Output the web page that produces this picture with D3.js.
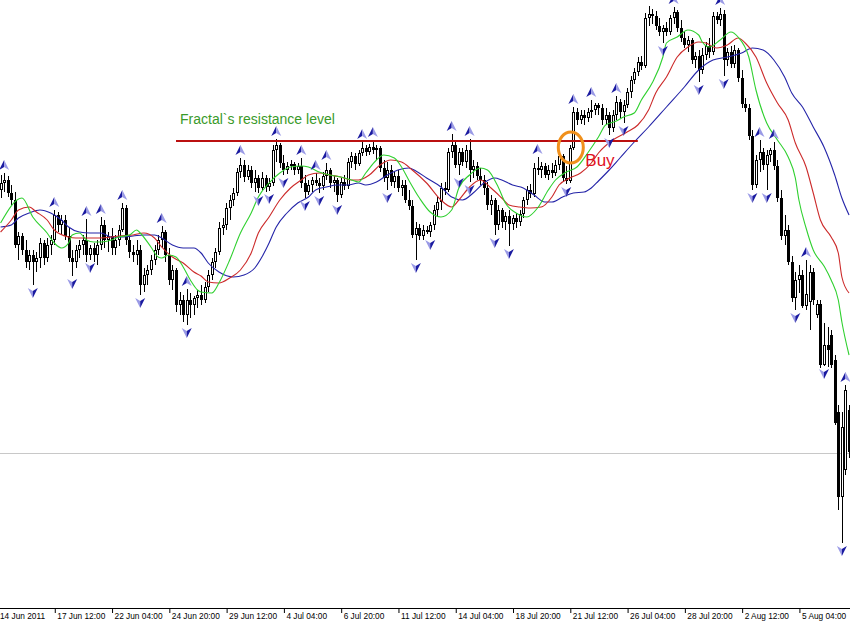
<!DOCTYPE html>
<html><head><meta charset="utf-8">
<script src="https://cdn.jsdelivr.net/npm/d3@7"></script>
<style>html,body{margin:0;padding:0;background:#fff;overflow:hidden}</style>
</head><body>
<svg id="chart" width="850" height="625"></svg>
<script>
// ---- data (AUD-style H4 bars) ----
const tickLabels = ["14 Jun 2011","17 Jun 12:00","22 Jun 04:00","24 Jun 20:00","29 Jun 12:00","4 Jul 04:00","6 Jul 20:00","11 Jul 12:00","14 Jul 04:00","18 Jul 20:00","21 Jul 12:00","26 Jul 04:00","28 Jul 20:00","2 Aug 12:00","5 Aug 04:00"];
const barsPerTick = 16;

const openP = [1.0730,1.0720,1.0734,1.0740,1.0714,1.0700,1.0610,1.0628,1.0600,1.0576,
1.0590,1.0576,1.0584,1.0614,1.0584,1.0610,1.0620,1.0670,1.0650,1.0660,
1.0628,1.0584,1.0576,1.0600,1.0610,1.0620,1.0590,1.0604,1.0590,1.0610,
1.0650,1.0620,1.0628,1.0604,1.0620,1.0640,1.0684,1.0620,1.0596,1.0590,
1.0600,1.0530,1.0550,1.0560,1.0580,1.0600,1.0620,1.0636,1.0590,1.0540,
1.0560,1.0490,1.0500,1.0470,1.0500,1.0490,1.0504,1.0510,1.0500,1.0526,
1.0550,1.0576,1.0596,1.0644,1.0650,1.0684,1.0700,1.0714,1.0756,1.0770,
1.0746,1.0760,1.0734,1.0744,1.0724,1.0744,1.0726,1.0734,1.0800,1.0810,
1.0774,1.0760,1.0768,1.0772,1.0760,1.0768,1.0734,1.0716,1.0730,1.0740,
1.0734,1.0728,1.0748,1.0760,1.0734,1.0740,1.0710,1.0736,1.0728,1.0776,
1.0788,1.0772,1.0794,1.0804,1.0796,1.0806,1.0800,1.0804,1.0764,1.0744,
1.0760,1.0736,1.0748,1.0724,1.0730,1.0700,1.0688,1.0630,1.0644,1.0628,
1.0640,1.0636,1.0650,1.0680,1.0696,1.0724,1.0720,1.0796,1.0810,1.0770,
1.0796,1.0776,1.0800,1.0760,1.0768,1.0748,1.0740,1.0724,1.0690,1.0700,
1.0650,1.0680,1.0656,1.0668,1.0652,1.0664,1.0656,1.0672,1.0700,1.0720,
1.0712,1.0764,1.0760,1.0768,1.0750,1.0760,1.0754,1.0770,1.0788,1.0744,
1.0738,1.0804,1.0876,1.0860,1.0870,1.0864,1.0876,1.0880,1.0890,1.0884,
1.0860,1.0870,1.0844,1.0870,1.0896,1.0876,1.0890,1.0916,1.0940,1.0956,
1.0976,1.0968,1.1064,1.1072,1.1068,1.1048,1.1036,1.1044,1.1036,1.1064,
1.1076,1.1044,1.1024,1.1010,1.1020,1.0980,1.0988,1.0960,1.0990,1.1008,
1.0996,1.1068,1.1060,1.1072,1.0980,1.0996,1.0972,1.1000,1.0944,1.0892,
1.0884,1.0828,1.0730,1.0780,1.0796,1.0770,1.0790,1.0800,1.0768,1.0704,
1.0628,1.0640,1.0576,1.0504,1.0540,1.0550,1.0488,1.0496,1.0556,1.0470,
1.0492,1.0370,1.0410,1.0430,1.0380,1.0276,1.0106,1.0160,1.0280];

const highP = [1.0744,1.0750,1.0754,1.0748,1.0730,1.0716,1.0636,1.0634,1.0620,1.0600,
1.0600,1.0596,1.0624,1.0620,1.0624,1.0630,1.0680,1.0676,1.0670,1.0670,
1.0644,1.0600,1.0610,1.0620,1.0630,1.0662,1.0610,1.0614,1.0620,1.0666,
1.0660,1.0636,1.0644,1.0630,1.0650,1.0694,1.0690,1.0630,1.0610,1.0620,
1.0610,1.0564,1.0570,1.0590,1.0610,1.0630,1.0648,1.0640,1.0604,1.0570,
1.0564,1.0516,1.0510,1.0522,1.0514,1.0508,1.0520,1.0530,1.0536,1.0560,
1.0584,1.0604,1.0656,1.0664,1.0694,1.0710,1.0724,1.0764,1.0784,1.0780,
1.0770,1.0768,1.0760,1.0750,1.0756,1.0750,1.0744,1.0810,1.0822,1.0814,
1.0790,1.0776,1.0780,1.0776,1.0774,1.0784,1.0750,1.0740,1.0746,1.0754,
1.0744,1.0756,1.0774,1.0764,1.0748,1.0744,1.0744,1.0750,1.0784,1.0796,
1.0794,1.0800,1.0816,1.0810,1.0812,1.0820,1.0810,1.0808,1.0780,1.0776,
1.0770,1.0756,1.0760,1.0740,1.0740,1.0720,1.0700,1.0656,1.0652,1.0650,
1.0648,1.0656,1.0690,1.0706,1.0734,1.0736,1.0804,1.0832,1.0816,1.0804,
1.0804,1.0810,1.0822,1.0780,1.0776,1.0764,1.0750,1.0736,1.0710,1.0704,
1.0690,1.0684,1.0676,1.0680,1.0670,1.0674,1.0680,1.0706,1.0728,1.0732,
1.0774,1.0786,1.0776,1.0774,1.0770,1.0774,1.0780,1.0800,1.0792,1.0768,
1.0810,1.0886,1.0884,1.0880,1.0880,1.0884,1.0900,1.0894,1.0894,1.0892,
1.0884,1.0876,1.0880,1.0908,1.0902,1.0900,1.0924,1.0948,1.0964,1.0986,
1.0988,1.1074,1.1088,1.1082,1.1078,1.1064,1.1050,1.1056,1.1070,1.1086,
1.1080,1.1060,1.1036,1.1028,1.1024,1.0996,1.1000,1.1004,1.1016,1.1024,
1.1076,1.1076,1.1084,1.1080,1.1004,1.1008,1.1010,1.1004,1.0960,1.0904,
1.0892,1.0840,1.0790,1.0820,1.0804,1.0800,1.0804,1.0816,1.0780,1.0720,
1.0670,1.0650,1.0588,1.0556,1.0570,1.0560,1.0580,1.0570,1.0564,1.0500,
1.0500,1.0454,1.0446,1.0440,1.0390,1.0290,1.0276,1.0330,1.0290];

const lowP = [1.0710,1.0704,1.0716,1.0706,1.0690,1.0604,1.0580,1.0590,1.0564,1.0560,
1.0530,1.0556,1.0564,1.0570,1.0576,1.0590,1.0610,1.0636,1.0630,1.0620,
1.0576,1.0548,1.0564,1.0584,1.0590,1.0576,1.0580,1.0576,1.0570,1.0600,
1.0604,1.0596,1.0590,1.0590,1.0608,1.0636,1.0610,1.0584,1.0576,1.0570,
1.0510,1.0516,1.0530,1.0550,1.0570,1.0590,1.0604,1.0576,1.0530,1.0520,
1.0476,1.0470,1.0456,1.0450,1.0464,1.0470,1.0484,1.0490,1.0494,1.0516,
1.0540,1.0564,1.0590,1.0630,1.0640,1.0660,1.0688,1.0708,1.0744,1.0736,
1.0740,1.0724,1.0716,1.0714,1.0720,1.0716,1.0718,1.0728,1.0776,1.0764,
1.0750,1.0752,1.0760,1.0750,1.0752,1.0724,1.0704,1.0710,1.0716,1.0728,
1.0714,1.0720,1.0740,1.0724,1.0716,1.0696,1.0704,1.0720,1.0722,1.0764,
1.0760,1.0768,1.0788,1.0788,1.0790,1.0792,1.0780,1.0756,1.0736,1.0720,
1.0728,1.0724,1.0716,1.0708,1.0694,1.0680,1.0624,1.0580,1.0620,1.0620,
1.0632,1.0626,1.0640,1.0666,1.0680,1.0710,1.0716,1.0784,1.0764,1.0750,
1.0768,1.0764,1.0736,1.0744,1.0740,1.0730,1.0710,1.0680,1.0670,1.0630,
1.0640,1.0644,1.0640,1.0608,1.0640,1.0644,1.0648,1.0664,1.0690,1.0704,
1.0706,1.0750,1.0744,1.0744,1.0740,1.0744,1.0748,1.0760,1.0736,1.0732,
1.0734,1.0800,1.0850,1.0852,1.0850,1.0856,1.0864,1.0870,1.0870,1.0850,
1.0850,1.0830,1.0836,1.0860,1.0864,1.0854,1.0884,1.0904,1.0932,1.0948,
1.0960,1.0964,1.1048,1.1052,1.1040,1.1028,1.1014,1.1028,1.1030,1.1052,
1.1036,1.1016,1.1004,1.0996,1.0972,1.0964,1.0936,1.0952,1.0980,1.0984,
1.0990,1.1052,1.1048,1.0948,1.0968,1.0964,1.0964,1.0936,1.0884,1.0876,
1.0820,1.0720,1.0724,1.0756,1.0760,1.0720,1.0776,1.0760,1.0696,1.0620,
1.0610,1.0570,1.0496,1.0480,1.0514,1.0484,1.0480,1.0440,1.0490,1.0464,
1.0364,1.0368,1.0366,1.0364,1.0250,1.0080,1.0014,1.0150,1.0184];

const closeP = [1.0720,1.0734,1.0740,1.0714,1.0700,1.0610,1.0628,1.0600,1.0576,1.0590,
1.0576,1.0584,1.0614,1.0584,1.0610,1.0620,1.0670,1.0650,1.0660,1.0628,
1.0584,1.0576,1.0600,1.0610,1.0620,1.0590,1.0604,1.0590,1.0610,1.0650,
1.0620,1.0628,1.0604,1.0620,1.0640,1.0684,1.0620,1.0596,1.0590,1.0600,
1.0530,1.0550,1.0560,1.0580,1.0600,1.0620,1.0636,1.0590,1.0540,1.0560,
1.0490,1.0500,1.0470,1.0500,1.0490,1.0504,1.0510,1.0500,1.0526,1.0550,
1.0576,1.0596,1.0644,1.0650,1.0684,1.0700,1.0714,1.0756,1.0770,1.0746,
1.0760,1.0734,1.0744,1.0724,1.0744,1.0726,1.0734,1.0800,1.0810,1.0774,
1.0760,1.0768,1.0772,1.0760,1.0768,1.0734,1.0716,1.0730,1.0740,1.0734,
1.0728,1.0748,1.0760,1.0734,1.0740,1.0710,1.0736,1.0728,1.0776,1.0788,
1.0772,1.0794,1.0804,1.0796,1.0806,1.0800,1.0804,1.0764,1.0744,1.0760,
1.0736,1.0748,1.0724,1.0730,1.0700,1.0688,1.0630,1.0644,1.0628,1.0640,
1.0636,1.0650,1.0680,1.0696,1.0724,1.0720,1.0796,1.0810,1.0770,1.0796,
1.0776,1.0800,1.0760,1.0768,1.0748,1.0740,1.0724,1.0690,1.0700,1.0650,
1.0680,1.0656,1.0668,1.0652,1.0664,1.0656,1.0672,1.0700,1.0720,1.0712,
1.0764,1.0760,1.0768,1.0750,1.0760,1.0754,1.0770,1.0788,1.0744,1.0738,
1.0804,1.0876,1.0860,1.0870,1.0864,1.0876,1.0880,1.0890,1.0884,1.0860,
1.0870,1.0844,1.0870,1.0896,1.0876,1.0890,1.0916,1.0940,1.0956,1.0976,
1.0968,1.1064,1.1072,1.1068,1.1048,1.1036,1.1044,1.1036,1.1064,1.1076,
1.1044,1.1024,1.1010,1.1020,1.0980,1.0988,1.0960,1.0990,1.1008,1.0996,
1.1068,1.1060,1.1072,1.0980,1.0996,1.0972,1.1000,1.0944,1.0892,1.0884,
1.0828,1.0730,1.0780,1.0796,1.0770,1.0790,1.0800,1.0768,1.0704,1.0628,
1.0640,1.0576,1.0504,1.0540,1.0550,1.0488,1.0512,1.0556,1.0500,1.0492,
1.0370,1.0410,1.0400,1.0370,1.0254,1.0106,1.0246,1.0320,1.0196];

// fractal bars
const fractalUpBars = [2,16,25,29,35,46,53,68,78,85,89,92,102,105,127,132,151,161,166,173,189,202,213,217,226,237];
const fractalDownBars = [10,21,26,40,53,73,76,80,86,90,95,109,117,121,129,132,139,143,159,171,175,186,196,203,211,215,223,231,236];

// Alligator lines [bar, price]
const jaw = [[1,1.0646],[4,1.0650],[6,1.0664],[9,1.0674],[12,1.0680],[15,1.0674],[18,1.0660],[20,1.0646],[23,1.0636],[26,1.0634],[29,1.0634],[32,1.0626],[34,1.0626],[38,1.0628],[41,1.0630],[44,1.0630],[46,1.0624],[49,1.0610],[52,1.0604],[55,1.0604],[57,1.0594],[59,1.0574],[62,1.0556],[66,1.0546],[69,1.0550],[72,1.0564],[74,1.0586],[76,1.0614],[78,1.0646],[81,1.0674],[84,1.0694],[87,1.0706],[89,1.0720],[92,1.0726],[95,1.0730],[98,1.0730],[101,1.0734],[103,1.0730],[106,1.0736],[109,1.0750],[112,1.0760],[115,1.0764],[117,1.0758],[120,1.0744],[124,1.0726],[127,1.0706],[130,1.0700],[133,1.0714],[136,1.0734],[139,1.0744],[141,1.0740],[144,1.0730],[147,1.0724],[150,1.0710],[153,1.0696],[155,1.0696],[158,1.0706],[161,1.0714],[164,1.0716],[166,1.0724],[168,1.0738],[171,1.0760],[174,1.0784],[178,1.0816],[182,1.0846],[187,1.0886],[192,1.0926],[196,1.0960],[200,1.0980],[204,1.0986],[208,1.0994],[211,1.1004],[214,1.1000],[217,1.0980],[220,1.0946],[222,1.0914],[225,1.0886],[228,1.0846],[231,1.0806],[234,1.0750],[236,1.0704],[238,1.0670]];
const teeth = [[1,1.0636],[4,1.0660],[6,1.0680],[9,1.0686],[11,1.0676],[14,1.0660],[16,1.0640],[20,1.0626],[22,1.0624],[25,1.0624],[29,1.0624],[32,1.0626],[34,1.0628],[38,1.0630],[41,1.0634],[44,1.0624],[46,1.0606],[49,1.0586],[52,1.0574],[55,1.0556],[57,1.0548],[59,1.0536],[62,1.0534],[65,1.0544],[68,1.0560],[71,1.0594],[73,1.0634],[76,1.0666],[79,1.0700],[82,1.0724],[85,1.0740],[87,1.0750],[90,1.0754],[93,1.0750],[96,1.0746],[99,1.0740],[101,1.0740],[104,1.0750],[107,1.0770],[110,1.0780],[113,1.0776],[116,1.0760],[120,1.0734],[124,1.0700],[127,1.0686],[129,1.0700],[132,1.0726],[135,1.0740],[138,1.0724],[141,1.0704],[143,1.0690],[146,1.0686],[149,1.0684],[152,1.0686],[155,1.0706],[157,1.0730],[160,1.0744],[163,1.0754],[166,1.0774],[168,1.0794],[172,1.0820],[176,1.0836],[179,1.0850],[182,1.0880],[184,1.0914],[187,1.0946],[190,1.0986],[193,1.1006],[196,1.1016],[198,1.1014],[201,1.1004],[204,1.1010],[207,1.1024],[209,1.1014],[212,1.0986],[215,1.0934],[218,1.0894],[221,1.0860],[223,1.0814],[226,1.0766],[228,1.0714],[230,1.0660],[233,1.0626],[235,1.0594],[236,1.0546],[238,1.0514]];
const lips = [[1,1.0654],[7,1.0704],[10,1.0666],[14,1.0634],[16,1.0614],[18,1.0604],[20,1.0614],[21,1.0630],[23,1.0634],[25,1.0620],[27,1.0616],[29,1.0616],[32,1.0620],[34,1.0626],[37,1.0630],[39,1.0640],[40,1.0634],[43,1.0606],[45,1.0586],[46,1.0584],[48,1.0590],[50,1.0586],[52,1.0566],[54,1.0540],[56,1.0520],[57,1.0516],[60,1.0514],[62,1.0534],[65,1.0580],[68,1.0634],[71,1.0674],[73,1.0706],[76,1.0734],[79,1.0754],[82,1.0766],[85,1.0768],[87,1.0766],[90,1.0756],[93,1.0750],[96,1.0746],[99,1.0740],[101,1.0736],[103,1.0754],[106,1.0780],[108,1.0790],[111,1.0784],[113,1.0766],[115,1.0740],[118,1.0704],[121,1.0676],[124,1.0666],[127,1.0680],[129,1.0724],[132,1.0750],[135,1.0764],[137,1.0760],[140,1.0726],[142,1.0694],[145,1.0674],[148,1.0666],[151,1.0684],[154,1.0720],[156,1.0740],[159,1.0756],[162,1.0766],[165,1.0794],[168,1.0826],[170,1.0850],[173,1.0858],[175,1.0866],[178,1.0874],[180,1.0900],[183,1.0934],[186,1.0986],[187,1.1014],[190,1.1026],[193,1.1040],[196,1.1030],[197,1.1016],[199,1.1006],[202,1.1020],[205,1.1036],[207,1.1026],[210,1.0986],[212,1.0920],[215,1.0854],[218,1.0820],[221,1.0786],[223,1.0744],[224,1.0700],[226,1.0644],[228,1.0600],[231,1.0568],[233,1.0540],[235,1.0500],[236,1.0456],[238,1.0390]];

const resistanceLevel = 1.0818;
const resistanceBars = [50, 179];
const horizontalLevel = 1.0194;
const buyBar = 160;
const annotationTexts = ["Fractal`s resistance level", "Buy"];

// ---- drawing ----
const W = 850, H = 625, axisY = 608;
const svg = d3.select("#chart");
const nBars = closeP.length;
const x = d3.scaleLinear().domain([0, nBars - 1]).range([-3, -3 + (nBars - 1) * 3.58]);
const y = d3.scaleLinear().domain([0.985, 1.11]).range([H, 0]);

const bars = d3.range(nBars).map(i => ({i, o: openP[i], h: highP[i], l: lowP[i], c: closeP[i]}));

// gray horizontal level
svg.append("line").attr("x1", 0).attr("x2", W)
  .attr("y1", Math.round(y(horizontalLevel)) + 0.5).attr("y2", Math.round(y(horizontalLevel)) + 0.5)
  .attr("stroke", "#c8c8c8").attr("stroke-width", 1);

// candles
const cg = svg.append("g");
bars.forEach(d => {
  const cx = Math.round(x(d.i));
  cg.append("line").attr("x1", cx + 0.5).attr("x2", cx + 0.5)
    .attr("y1", y(d.h)).attr("y2", y(d.l)).attr("stroke", "#000").attr("stroke-width", 1);
  const top = y(Math.max(d.o, d.c)), bot = y(Math.min(d.o, d.c));
  const hgt = Math.max(1, bot - top);
  if (d.c >= d.o) {
    cg.append("rect").attr("x", cx - 0.5).attr("y", top + 0.5).attr("width", 2).attr("height", Math.max(0.5, hgt - 1))
      .attr("fill", "#fff").attr("stroke", "#000").attr("stroke-width", 1);
  } else {
    cg.append("rect").attr("x", cx - 1).attr("y", top).attr("width", 3).attr("height", hgt).attr("fill", "#000");
  }
});

// alligator
const line = d3.line().x(d => x(d[0])).y(d => y(d[1])).curve(d3.curveMonotoneX);
[[jaw, "#2424a8"], [teeth, "#cc2a2a"], [lips, "#2fd02f"]].forEach(([data, col]) => {
  svg.append("path").datum(data).attr("d", line).attr("fill", "none").attr("stroke", col).attr("stroke-width", 1.1);
});

// resistance line
svg.append("line").attr("x1", x(resistanceBars[0])).attr("x2", x(resistanceBars[1]))
  .attr("y1", y(resistanceLevel)).attr("y2", y(resistanceLevel))
  .attr("stroke", "#bb1010").attr("stroke-width", 2.2);

// fractals
const fg = svg.append("g");
fractalUpBars.forEach(i => {
  const g = fg.append("g").attr("transform", `translate(${x(i)},${y(highP[i]) - 8})`);
  g.append("path").attr("d", "M0,-5L-5,5L0,2Z").attr("fill", "#1a1aa0");
  g.append("path").attr("d", "M0,-5L5,5L0,2Z").attr("fill", "#9a9ae6");
});
fractalDownBars.forEach(i => {
  const g = fg.append("g").attr("transform", `translate(${x(i)},${y(lowP[i]) + 8})`);
  g.append("path").attr("d", "M0,5L-5,-5L0,-2Z").attr("fill", "#9a9ae6");
  g.append("path").attr("d", "M0,5L5,-5L0,-2Z").attr("fill", "#1a1aa0");
});

// annotations
svg.append("text").attr("x", x(resistanceBars[0]) + 4).attr("y", y(resistanceLevel) - 17.5)
  .attr("font-family", "Liberation Sans, Arial, sans-serif").attr("font-size", 14)
  .attr("fill", "#3a9a2a").text(annotationTexts[0]);
svg.append("ellipse").attr("cx", x(buyBar) + 1).attr("cy", y(resistanceLevel) + 6.5)
  .attr("rx", 12.5).attr("ry", 15.5).attr("fill", "none").attr("stroke", "#f0901c").attr("stroke-width", 3);
svg.append("text").attr("x", x(buyBar) + 15.5).attr("y", y(resistanceLevel) + 25)
  .attr("font-family", "Liberation Sans, Arial, sans-serif").attr("font-size", 17)
  .attr("fill", "#e0101e").text(annotationTexts[1]);

// x axis
const tickVals = tickLabels.map((_, k) => k * barsPerTick);
const axis = d3.axisBottom(x).tickValues(tickVals).tickFormat((d, k) => tickLabels[k]).tickSize(5).tickSizeOuter(0);
const ag = svg.append("g").attr("transform", `translate(0.5,${axisY})`).call(axis);
ag.select(".domain").remove();
ag.selectAll(".tick line").attr("stroke", "#000");
ag.selectAll(".tick text").attr("text-anchor", "start").attr("dx", 2).attr("y", 5).attr("dy", "0.75em")
  .attr("font-family", "Liberation Sans, Arial, sans-serif").attr("font-size", 8.3).attr("fill", "#000");
svg.append("line").attr("x1", 0).attr("x2", W).attr("y1", axisY + 0.5).attr("y2", axisY + 0.5)
  .attr("stroke", "#000").attr("stroke-width", 1);
</script>
</body></html>
